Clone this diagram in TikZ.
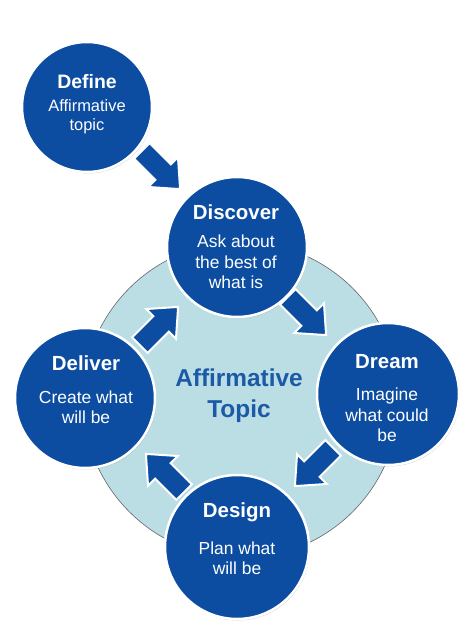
\documentclass[tikz,border=0pt]{standalone}
\usepackage{fontspec}
\setmainfont{Liberation Sans}
\usetikzlibrary{shadows}
\definecolor{dblue}{RGB}{12,77,162}
\definecolor{lcyan}{RGB}{186,222,228}
\definecolor{tblue}{RGB}{28,90,168}
\begin{document}
\begin{tikzpicture}[x=1bp,y=1bp,
  bub/.style={circle,fill=dblue,draw=white,line width=2.5bp,minimum size=#1,inner sep=0pt,
    drop shadow={shadow xshift=1bp,shadow yshift=-1.5bp,opacity=0.3,fill=gray}},
  ttl/.style={text=white,inner sep=0pt,font=\bfseries\fontsize{20.5}{24}\selectfont},
  bod/.style={text=white,align=center,inner sep=0pt,font=\fontsize{17.5}{20.5}\selectfont},
  blockarrow/.pic={\fill[dblue,draw=white,line width=2bp,line join=miter]
    (-27,-11)--(3,-11)--(3,-21)--(27,0)--(3,21)--(3,11)--(-27,11)--cycle;}
]
\useasboundingbox[fill=white] (0,0) rectangle (474,-627);
% central area
\node[circle,fill=lcyan,draw=black!60,line width=0.6bp,minimum size=316bp,inner sep=0pt] (core) at (241,-400) {};
\node[text=tblue,align=center,inner sep=0pt,font=\bfseries\fontsize{24.5}{31}\selectfont] (coretxt) at (239,-396) {Affirmative\\Topic};
% bubbles
\node[bub=130bp] (define) at (87,-107) {};
\node[bub=140bp] (discover) at (237,-247) {};
\node[bub=142bp] (dream) at (388,-394) {};
\node[bub=140bp] (deliver) at (85,-398) {};
\node[bub=144bp] (design) at (237,-547) {};
% arrows
\pic[rotate=-45] at (161,-170) {blockarrow};
\pic[rotate=-45] at (307,-316) {blockarrow};
\pic[rotate=-135] at (314,-467) {blockarrow};
\pic[rotate=135] at (165,-473) {blockarrow};
\pic[rotate=45] at (159,-326) {blockarrow};
% texts
\node[ttl,font=\bfseries\fontsize{19.5}{23}\selectfont] (t1) at (87,-82) {Define};
\node[bod,font=\fontsize{16.5}{19}\selectfont] (b1) at (87,-117) {Affirmative\\topic};
\node[ttl] (t2) at (236,-212) {Discover};
\node[bod] (b2) at (236,-262) {Ask about\\the best of\\what is};
\node[ttl] (t3) at (387,-362) {Dream};
\node[bod] (b3) at (387,-415) {Imagine\\what could\\be};
\node[ttl] (t4) at (86,-363) {Deliver};
\node[bod] (b4) at (86,-407) {Create what\\will be};
\node[ttl] (t5) at (237,-512) {Design};
\node[bod] (b5) at (237,-558) {Plan what\\will be};
\end{tikzpicture}
\end{document}
